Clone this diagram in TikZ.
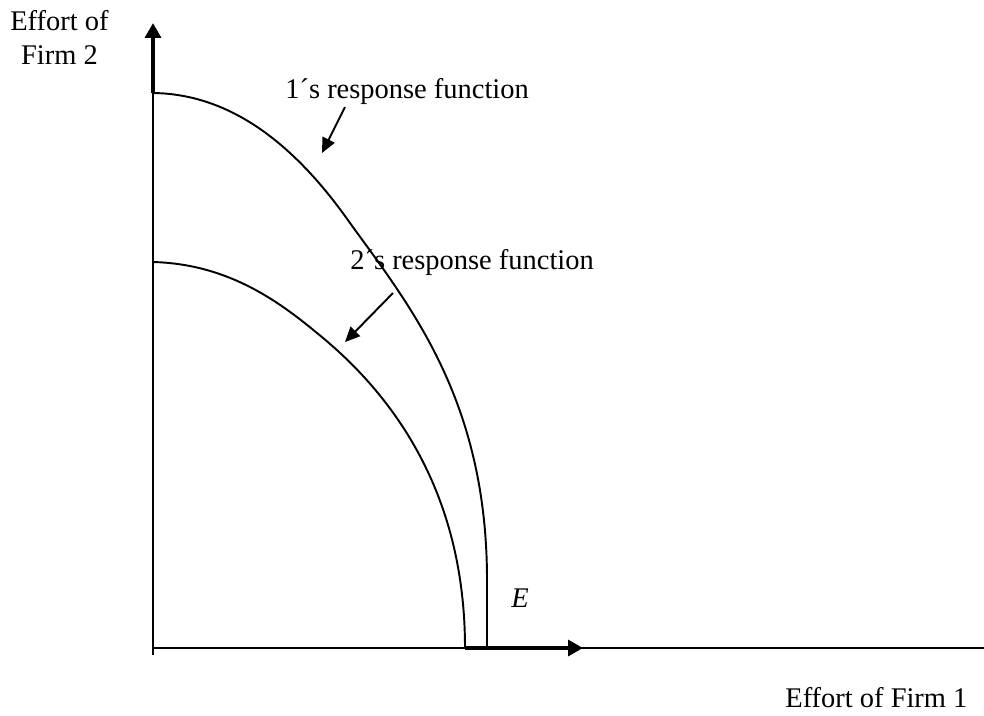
\documentclass[tikz,border=0pt]{standalone}
\usepackage{fontspec}
\setmainfont{Liberation Serif}
\usetikzlibrary{arrows.meta}

\tikzset{
    lbl/.style={inner sep=0pt, font=\fontsize{16.2}{19.3}\selectfont},
    thin line/.style={line width=1.1pt},
    axis arrow/.style={line width=2.1pt, -{Triangle[length=8.5pt,width=9pt]}},
    pointer/.style={line width=1.1pt, -{Triangle[length=8.5pt,width=7.6pt]}}
}

\begin{document}
\begin{tikzpicture}[x=0.2mm, y=-0.2mm]
    \pgfmathsetmacro{\ox}{153}
    \pgfmathsetmacro{\oy}{648}
\useasboundingbox (0,0) rectangle (984,715);

% axes
\draw[thin line] (\ox,655) -- (\ox,93);
\draw[thin line] (\ox,\oy) -- (984,\oy);
\coordinate (ytop) at (\ox,23);
\coordinate (ybase) at (\ox,93);
\coordinate (xbase) at (465,\oy);
\coordinate (xtip) at (583,\oy);
\draw[axis arrow] (ybase) -- (ytop);
\draw[axis arrow] (xbase) -- (xtip);

    % response functions
\draw[thin line] (153,93) .. controls (232,94) and (296,146) .. (350,223)
    .. controls (410,306) and (487,400) .. (487,580) -- (487,\oy);
\draw[thin line] (153,262) .. controls (226,264) and (276,299) .. (317,333)
    .. controls (400,400) and (465,500) .. (465,\oy);

    % labels
\node[lbl, align=center, anchor=north west] (ylabel) at (10,10) {Effort of\\Firm 2};
\node[lbl, anchor=base west] (xlabel) at (785,707) {Effort of Firm 1};
\node[lbl, anchor=base west] (lab1) at (285,98) {1´s response function};
\node[lbl, anchor=base west] (lab2) at (350,269) {2´s response function};
\node[lbl, anchor=base west] (elab) at (511,607) {\itshape E};

\coordinate (p1) at (345,107);
\coordinate (q1) at (322,153);
\coordinate (p2) at (393,293);
\coordinate (q2) at (345,342);
\draw[pointer] (p1) -- (q1);
\draw[pointer] (p2) -- (q2);

\end{tikzpicture}
\end{document}
